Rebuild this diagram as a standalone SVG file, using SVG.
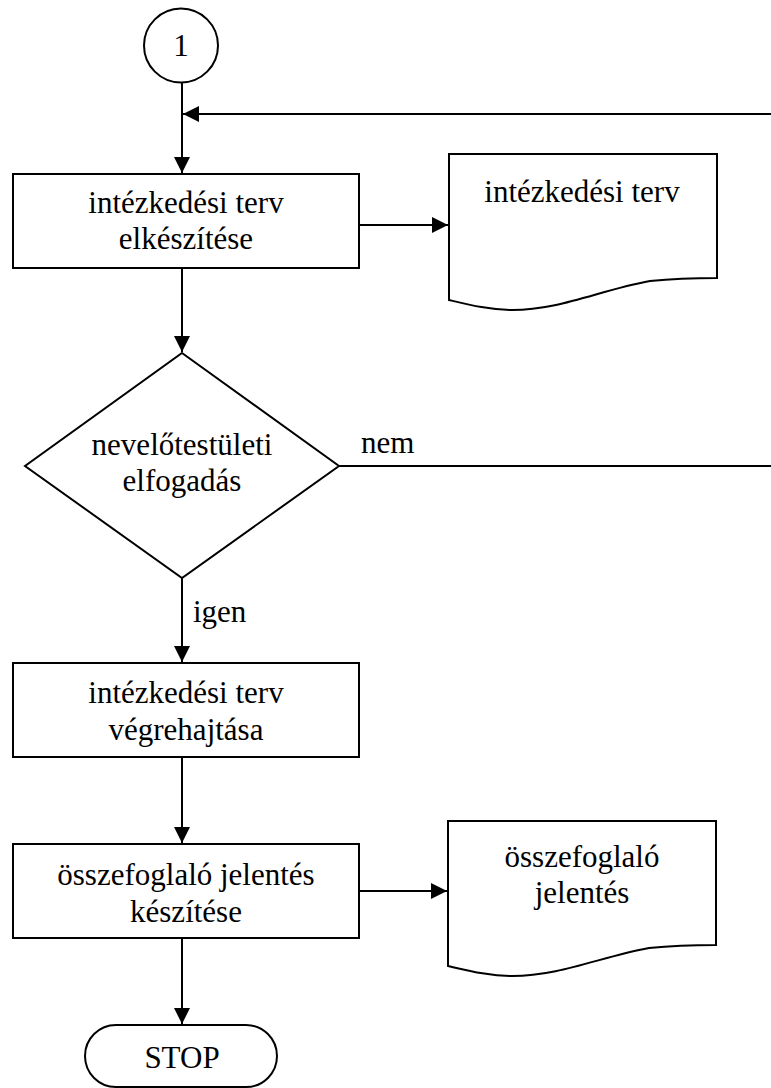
<svg xmlns="http://www.w3.org/2000/svg" width="771" height="1088" viewBox="0 0 771 1088">
<defs>
<style>
.s{fill:#fff;stroke:#000;stroke-width:2}
.c{fill:none;stroke:#000;stroke-width:2}
text{font-family:'Liberation Serif','Times New Roman',serif;font-size:31px;fill:#000}
.t{text-anchor:middle}
</style>
<marker id="a" markerWidth="16" markerHeight="16" viewBox="0 0 16 16" refX="16" refY="8" orient="auto" markerUnits="userSpaceOnUse">
<path d="M0,0 L16,8 L0,16 Z" fill="#000"/>
</marker>
</defs>
<rect width="771" height="1088" fill="#fff"/>
<g id="connectors">
<line class="c" x1="182" y1="83" x2="182" y2="173" marker-end="url(#a)"/>
<line class="c" x1="771" y1="114" x2="183" y2="114" marker-end="url(#a)"/>
<line class="c" x1="359" y1="225" x2="448" y2="225" marker-end="url(#a)"/>
<line class="c" x1="182" y1="268" x2="182" y2="352" marker-end="url(#a)"/>
<line class="c" x1="339" y1="466" x2="771" y2="466"/>
<line class="c" x1="182" y1="578" x2="182" y2="662" marker-end="url(#a)"/>
<line class="c" x1="182" y1="757" x2="182" y2="843" marker-end="url(#a)"/>
<line class="c" x1="359" y1="891" x2="447" y2="891" marker-end="url(#a)"/>
<line class="c" x1="182" y1="938" x2="182" y2="1024" marker-end="url(#a)"/>
<text x="361" y="453">nem</text>
<text x="193" y="622">igen</text>
</g>
<g id="start">
<circle class="s" cx="181" cy="45.5" r="37"/>
<text class="t" x="181" y="56">1</text>
</g>
<g id="plan">
<rect class="s" x="13" y="174" width="346" height="94"/>
<text class="t" x="186" y="213">intézkedési terv</text>
<text class="t" x="186" y="249">elkészítése</text>
</g>
<g id="doc1">
<path class="s" d="M449,154 H717 V278 C700,278 680,278 650,281 C600,290 560,310 512,310 C490,310 470,305 449,300 Z"/>
<text class="t" x="582" y="202">intézkedési terv</text>
</g>
<g id="decision">
<polygon class="s" points="182,353 339,466 182,578 25,466"/>
<text class="t" x="182" y="455">nevelőtestületi</text>
<text class="t" x="182" y="491">elfogadás</text>
</g>
<g id="execute">
<rect class="s" x="13" y="663" width="346" height="94"/>
<text class="t" x="186" y="703">intézkedési terv</text>
<text class="t" x="186" y="740">végrehajtása</text>
</g>
<g id="report">
<rect class="s" x="13" y="844" width="346" height="94"/>
<text class="t" x="186" y="885">összefoglaló jelentés</text>
<text class="t" x="186" y="922">készítése</text>
</g>
<g id="doc2">
<path class="s" d="M448,821 H716 V945 C699,945 679,945 649,948 C600,957 560,976 512,976 C490,976 470,971 448,966 Z"/>
<text class="t" x="582" y="867">összefoglaló</text>
<text class="t" x="582" y="903">jelentés</text>
</g>
<g id="stop">
<rect class="s" x="85" y="1025" width="192" height="62" rx="31" ry="31"/>
<text class="t" x="182" y="1068">STOP</text>
</g>
</svg>
